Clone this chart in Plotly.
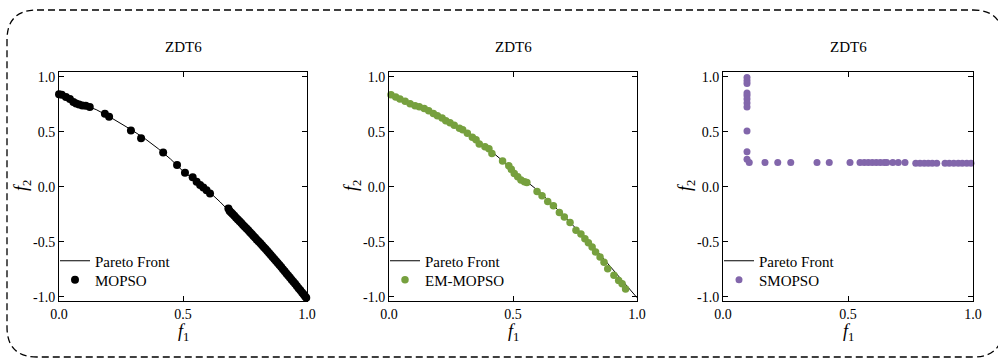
import plotly.graph_objects as go

W, H = 998, 360

# ---------------- data ----------------
TITLES = ["ZDT6", "ZDT6", "ZDT6"]
ALGOS = ["MOPSO", "EM-MOPSO", "SMOPSO"]
COLORS = ["#000000", "#76a03e", "#8266ab"]

X_TICKS = [0.0, 0.5, 1.0]
X_TICK_TEXT = ["0.0", "0.5", "1.0"]
Y_TICKS = [-1.0, -0.5, 0.0, 0.5, 1.0]
Y_TICK_TEXT = ["-1.0", "-0.5", "0.0", "0.5", "1.0"]

PF_X = [0.00, 0.03, 0.06, 0.09, 0.12, 0.15, 0.20, 0.25, 0.30, 0.35, 0.40, 0.45,
        0.50, 0.55, 0.60, 0.65, 0.70, 0.75, 0.80, 0.85, 0.90, 0.95, 1.00]
PF_Y = [0.84, 0.815, 0.77, 0.74, 0.725, 0.70, 0.64, 0.575, 0.505, 0.43, 0.345, 0.25,
        0.14, 0.055, -0.035, -0.14, -0.255, -0.37, -0.487, -0.615, -0.748, -0.884, -1.01]

MOPSO_X = [0.000, 0.011, 0.028, 0.044, 0.058, 0.069, 0.081, 0.094, 0.108, 0.124,
           0.185, 0.202, 0.290, 0.331, 0.420, 0.476, 0.508, 0.539, 0.555, 0.569,
           0.582, 0.595, 0.609,
           0.683, 0.688, 0.694, 0.700, 0.707, 0.714, 0.721, 0.728, 0.735, 0.742,
           0.749, 0.756, 0.763, 0.770, 0.777, 0.784, 0.791, 0.798, 0.805, 0.812,
           0.819, 0.826, 0.833, 0.840, 0.847, 0.854, 0.861, 0.868, 0.875, 0.882,
           0.889, 0.896, 0.903, 0.910, 0.917, 0.924, 0.931, 0.938, 0.945, 0.952,
           0.959, 0.966, 0.973, 0.980, 0.986, 0.992, 0.997]
MOPSO_Y = [0.840, 0.835, 0.815, 0.796, 0.770, 0.756, 0.747, 0.738, 0.735, 0.723,
           0.662, 0.635, 0.510, 0.440, 0.310, 0.196, 0.126, 0.084, 0.044, 0.014,
           -0.007, -0.032, -0.062,
           -0.200, -0.222, -0.236, -0.250, -0.266, -0.282, -0.298, -0.315, -0.331, -0.348,
           -0.364, -0.380, -0.397, -0.414, -0.431, -0.448, -0.465, -0.482, -0.499, -0.516,
           -0.533, -0.551, -0.568, -0.586, -0.604, -0.622, -0.640, -0.658, -0.676, -0.695,
           -0.713, -0.732, -0.751, -0.770, -0.789, -0.808, -0.827, -0.846, -0.865, -0.884,
           -0.904, -0.923, -0.943, -0.962, -0.979, -0.996, -1.010]

EM_X = [0.008, 0.027, 0.044, 0.065, 0.085, 0.105, 0.122, 0.142, 0.160, 0.179,
        0.195, 0.214, 0.229, 0.246, 0.263, 0.284, 0.297, 0.316, 0.336, 0.351,
        0.364, 0.387, 0.403, 0.415, 0.458, 0.483, 0.493, 0.505, 0.519, 0.532,
        0.546, 0.556, 0.597, 0.617, 0.640, 0.663, 0.687, 0.707, 0.730, 0.754,
        0.774, 0.790, 0.804, 0.819, 0.833, 0.851, 0.867, 0.882, 0.907, 0.926,
        0.940, 0.954, 1.008]
EM_Y = [0.836, 0.815, 0.796, 0.775, 0.753, 0.735, 0.726, 0.711, 0.690, 0.665,
        0.644, 0.623, 0.598, 0.580, 0.559, 0.531, 0.516, 0.486, 0.449, 0.425,
        0.388, 0.363, 0.345, 0.300, 0.233, 0.190, 0.157, 0.120, 0.090, 0.059,
        0.044, 0.038, -0.044, -0.084, -0.135, -0.175, -0.236, -0.276, -0.327, -0.397,
        -0.431, -0.473, -0.510, -0.550, -0.595, -0.641, -0.687, -0.747, -0.805, -0.854,
        -0.884, -0.930, -0.985]

SM_X = [0.096, 0.096, 0.096, 0.096, 0.096, 0.096, 0.096, 0.096, 0.096, 0.096,
        0.096, 0.105, 0.168, 0.219, 0.271, 0.376, 0.425, 0.508,
        0.548, 0.565, 0.581, 0.597, 0.613, 0.629, 0.645, 0.655, 0.679, 0.701, 0.728,
        0.771, 0.788, 0.805, 0.821, 0.837, 0.855,
        0.888, 0.905, 0.923, 0.941, 0.957, 0.975, 0.992]
SM_Y = [0.993, 0.962, 0.938, 0.852, 0.828, 0.797, 0.760, 0.724, 0.505, 0.316,
        0.249, 0.219, 0.219, 0.219, 0.219, 0.219, 0.219, 0.219,
        0.219, 0.219, 0.219, 0.219, 0.219, 0.219, 0.219, 0.219, 0.219, 0.219, 0.219,
        0.213, 0.213, 0.213, 0.213, 0.213, 0.213,
        0.213, 0.213, 0.213, 0.213, 0.213, 0.213, 0.213]

SERIES_X = [MOPSO_X, EM_X, SM_X]
SERIES_Y = [MOPSO_Y, EM_Y, SM_Y]
SHOW_FRONT = [True, True, False]
MARKER_SIZE = [8, 7.5, 7]

# ---------------- layout (pixels) ----------------
PANEL_X = [(59, 307), (389, 637), (723, 973)]
PANEL_TOP, PANEL_BOTTOM = 72, 301
LEG_ROWS = [261, 280]
FONT = "Liberation Serif"


def px(x):
    return x / W


def py(y):
    return 1 - y / H


fig = go.Figure()
layout = dict(
    width=W, height=H, margin=dict(l=0, r=0, t=0, b=0, autoexpand=False),
    paper_bgcolor="white", plot_bgcolor="white", showlegend=True,
    font=dict(family=FONT, size=14, color="black"),
    annotations=[], shapes=[],
)

leg_idx = 0


def leg_name():
    global leg_idx
    leg_idx += 1
    return "legend" if leg_idx == 1 else "legend" + str(leg_idx)


for i in range(3):
    n = "" if i == 0 else str(i + 1)
    xa, ya = "x" + n, "y" + n
    x0, x1 = PANEL_X[i]
    leg_a, leg_b = leg_name(), leg_name()
    if SHOW_FRONT[i]:
        fig.add_trace(go.Scatter(x=PF_X, y=PF_Y, mode="lines", name="Pareto Front",
                                 line=dict(color="black", width=1), showlegend=True,
                                 xaxis=xa, yaxis=ya, legend=leg_a))
    else:
        fig.add_trace(go.Scatter(x=[None], y=[None], mode="lines", name="Pareto Front",
                                 line=dict(color="black", width=1),
                                 xaxis=xa, yaxis=ya, legend=leg_a, showlegend=True))
    fig.add_trace(go.Scatter(x=SERIES_X[i], y=SERIES_Y[i], mode="markers", name=ALGOS[i],
                             marker=dict(color=COLORS[i], size=MARKER_SIZE[i], line=dict(width=0)),
                             cliponaxis=False, showlegend=True,
                             xaxis=xa, yaxis=ya, legend=leg_b))
    axcommon = dict(showline=True, linecolor="black", linewidth=1, mirror="ticks",
                    ticks="inside", ticklen=5, tickcolor="black", tickwidth=1,
                    showgrid=False, zeroline=False, automargin=False,
                    tickfont=dict(family=FONT, size=14, color="black"))
    layout["xaxis" + n] = dict(axcommon, domain=[px(x0), px(x1)], range=[0, 1],
                               tickvals=X_TICKS, ticktext=X_TICK_TEXT, anchor=ya)
    layout["yaxis" + n] = dict(axcommon, domain=[py(PANEL_BOTTOM), py(PANEL_TOP)],
                               range=[-1.04, 1.042],
                               tickvals=Y_TICKS, ticktext=Y_TICK_TEXT, anchor=xa)
    for lg, row in zip((leg_a, leg_b), LEG_ROWS):
        layout[lg] = dict(x=px(x0 - 4), y=py(row), xanchor="left", yanchor="middle",
                          bgcolor="rgba(0,0,0,0)", borderwidth=0, visible=True,
                          font=dict(family=FONT, size=15, color="black"))
    cx = (x0 + x1) / 2
    layout["annotations"].append(dict(text=TITLES[i], x=px(cx), y=py(47), xref="paper", yref="paper",
                                      xanchor="center", yanchor="middle",
                                      showarrow=False, font=dict(family=FONT, size=15)))
    layout["annotations"].append(dict(text="<i>f</i><sub>1</sub>", x=px(cx), y=py(332),
                                      xanchor="center", yanchor="middle",
                                      xref="paper", yref="paper", showarrow=False,
                                      font=dict(family=FONT, size=18)))
    layout["annotations"].append(dict(text="<i>f</i><sub>2</sub>", x=px(x0 - 37), y=py(186),
                                      xanchor="center", yanchor="middle",
                                      xref="paper", yref="paper", showarrow=False, textangle=-90,
                                      font=dict(family=FONT, size=18)))

# dashed rounded frame
L, R, T, B, r = 7, 1003, 10, 357, 30
path = (f"M {px(L + r)},{py(T)} L {px(R - r)},{py(T)} Q {px(R)},{py(T)} {px(R)},{py(T + r)} "
        f"L {px(R)},{py(B - r)} Q {px(R)},{py(B)} {px(R - r)},{py(B)} "
        f"L {px(L + r)},{py(B)} Q {px(L)},{py(B)} {px(L)},{py(B - r)} "
        f"L {px(L)},{py(T + r)} Q {px(L)},{py(T)} {px(L + r)},{py(T)} Z")
layout["shapes"].append(dict(type="path", path=path, xref="paper", yref="paper",
                             line=dict(color="black", width=1.3, dash="7px,4px")))

fig.update_layout(**layout)
fig.write_html("out.html")
